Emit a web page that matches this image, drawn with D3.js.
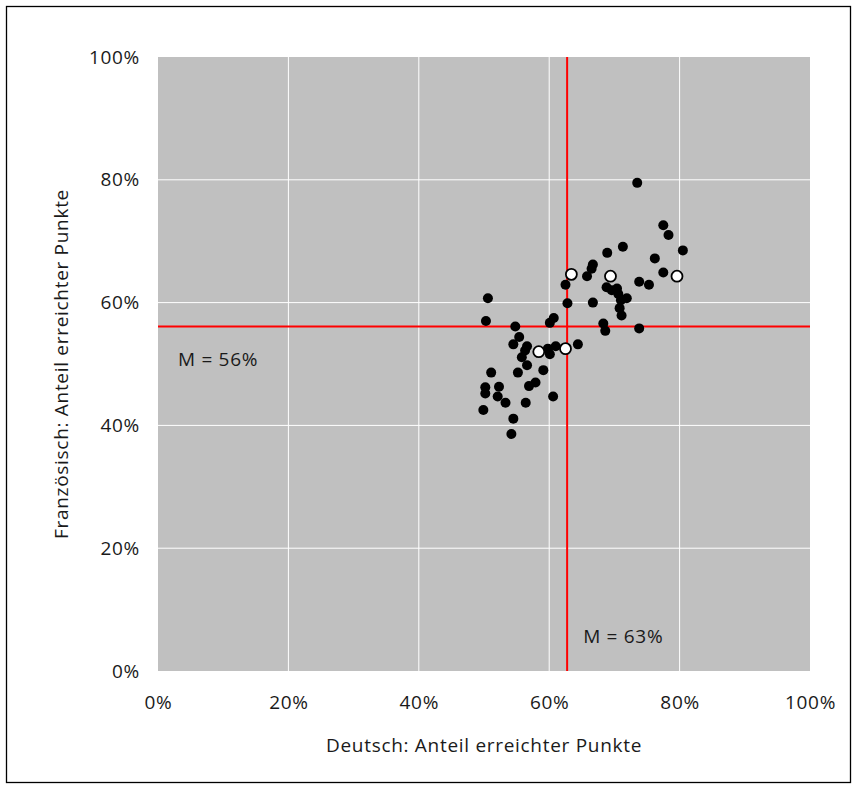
<!DOCTYPE html>
<html>
<head>
<meta charset="utf-8">
<script src="https://cdn.jsdelivr.net/npm/d3@7"></script>
<style>
  body { margin: 0; background: #fff; }
  text { font-family: "Open Sans", "Noto Sans", sans-serif; fill: #1a1a1a; letter-spacing: 0.7px; }
</style>
</head>
<body>
<svg id="chart"></svg>
<script>
// Deutsch (x) and Französisch (y), share of points reached in %
var schoolsX = [73.5, 77.5, 78.3, 80.5, 71.3, 68.9, 76.2, 66.7, 66.5, 65.8, 77.5, 73.8, 75.3,
  68.8, 69.6, 70.4, 70.6, 71.0, 71.9, 70.8, 71.1, 66.7, 68.3, 68.6, 73.8, 62.5, 62.8,
  50.6, 50.3, 60.1, 60.7, 54.8, 55.4, 54.5, 56.6, 56.3, 55.8, 59.8, 61.0, 60.1, 64.4,
  56.6, 59.1, 51.1, 55.2, 57.9, 56.9, 52.3, 50.2, 50.2, 52.1, 53.3, 56.4, 60.6, 49.9,
  54.5, 54.2];
var schoolsY = [79.5, 72.6, 71.0, 68.5, 69.1, 68.1, 67.2, 66.2, 65.5, 64.3, 64.9, 63.4, 62.9,
  62.5, 62.0, 62.3, 61.4, 60.4, 60.7, 59.1, 57.9, 60.0, 56.6, 55.4, 55.8, 62.9, 59.9,
  60.7, 57.0, 56.7, 57.5, 56.1, 54.4, 53.2, 52.9, 52.2, 51.1, 52.5, 52.9, 51.6, 53.2,
  49.8, 49.0, 48.6, 48.6, 47.0, 46.4, 46.3, 46.2, 45.2, 44.7, 43.7, 43.7, 44.7, 42.5,
  41.1, 38.6];
// highlighted (white) schools
var highlightX = [58.4, 62.5, 63.4, 69.4, 79.6];
var highlightY = [52.0, 52.5, 64.6, 64.3, 64.3];
var meanX = 63;
var meanY = 56;
var tickValues = [0, 20, 40, 60, 80, 100];

var width = 857;
var height = 789;
var plot = {left: 158, top: 57, right: 810, bottom: 671};

var svg = d3.select('#chart')
  .attr('width', width)
  .attr('height', height);

// outer frame
svg.append('rect')
  .attr('x', 6.5).attr('y', 6.5)
  .attr('width', 844).attr('height', 776)
  .attr('fill', 'none')
  .attr('stroke', '#000')
  .attr('stroke-width', 1.3);

var x = d3.scaleLinear().domain([0, 100]).range([plot.left, plot.right]);
var y = d3.scaleLinear().domain([0, 100]).range([plot.bottom, plot.top]);

svg.append('rect')
  .attr('x', plot.left).attr('y', plot.top)
  .attr('width', plot.right - plot.left)
  .attr('height', plot.bottom - plot.top)
  .attr('fill', '#c0c0c0');

// gridlines
svg.append('g')
  .selectAll('line')
  .data(tickValues.slice(1, -1))
  .enter()
    .append('line')
    .attr('x1', function (d) { return x(d); })
    .attr('x2', function (d) { return x(d); })
    .attr('y1', plot.top).attr('y2', plot.bottom)
    .attr('stroke', '#fff').attr('stroke-width', 1);

svg.append('g')
  .selectAll('line')
  .data(tickValues.slice(1, -1))
  .enter()
    .append('line')
    .attr('y1', function (d) { return y(d); })
    .attr('y2', function (d) { return y(d); })
    .attr('x1', plot.left).attr('x2', plot.right)
    .attr('stroke', '#fff').attr('stroke-width', 1);

// axes (labels only)
var xAxis = d3.axisBottom(x).tickValues(tickValues).tickSize(0).tickPadding(25)
  .tickFormat(function (d) { return d + '%'; });
var yAxis = d3.axisLeft(y).tickValues(tickValues).tickSize(0).tickPadding(18)
  .tickFormat(function (d) { return d + '%'; });

var gx = svg.append('g').attr('transform', 'translate(0,' + plot.bottom + ')').call(xAxis);
var gy = svg.append('g').attr('transform', 'translate(' + plot.left + ',0)').call(yAxis);
[gx, gy].forEach(function (g) {
  g.select('.domain').remove();
  g.selectAll('text')
    .style('font-family', '"Open Sans", sans-serif')
    .style('font-size', '19px')
    .attr('fill', '#1a1a1a');
});

// mean lines
svg.append('line')
  .attr('x1', x(62.75)).attr('x2', x(62.75))
  .attr('y1', plot.top).attr('y2', plot.bottom)
  .attr('stroke', '#ff0000').attr('stroke-width', 2);
svg.append('line')
  .attr('x1', plot.left).attr('x2', plot.right)
  .attr('y1', y(56.1)).attr('y2', y(56.1))
  .attr('stroke', '#ff0000').attr('stroke-width', 2);

// points
var points = schoolsX.map(function (d, i) { return {x: d, y: schoolsY[i]}; });
svg.append('g')
  .selectAll('circle')
  .data(points)
  .enter()
    .append('circle')
    .attr('cx', function (d) { return x(d.x); })
    .attr('cy', function (d) { return y(d.y); })
    .attr('r', 5)
    .attr('fill', '#000');

var highlights = highlightX.map(function (d, i) { return {x: d, y: highlightY[i]}; });
svg.append('g')
  .selectAll('circle')
  .data(highlights)
  .enter()
    .append('circle')
    .attr('cx', function (d) { return x(d.x); })
    .attr('cy', function (d) { return y(d.y); })
    .attr('r', 5.5)
    .attr('fill', '#fff')
    .attr('stroke', '#000')
    .attr('stroke-width', 1.8);

// mean labels
svg.append('text')
  .attr('x', 178).attr('y', y(56.1) + 39)
  .style('font-size', '19px')
  .text('M = ' + meanY + '%');
svg.append('text')
  .attr('x', x(62.75) + 16).attr('y', plot.bottom - 28)
  .style('font-size', '19px')
  .text('M = ' + meanX + '%');

// axis titles
svg.append('text')
  .attr('x', (plot.left + plot.right) / 2).attr('y', 752)
  .attr('text-anchor', 'middle')
  .style('font-size', '19px')
  .text('Deutsch: Anteil erreichter Punkte');
svg.append('text')
  .attr('transform', 'translate(68,' + (plot.top + plot.bottom) / 2 + ') rotate(-90)')
  .attr('text-anchor', 'middle')
  .style('font-size', '19px')
  .text('Französisch: Anteil erreichter Punkte');
</script>
</body>
</html>
